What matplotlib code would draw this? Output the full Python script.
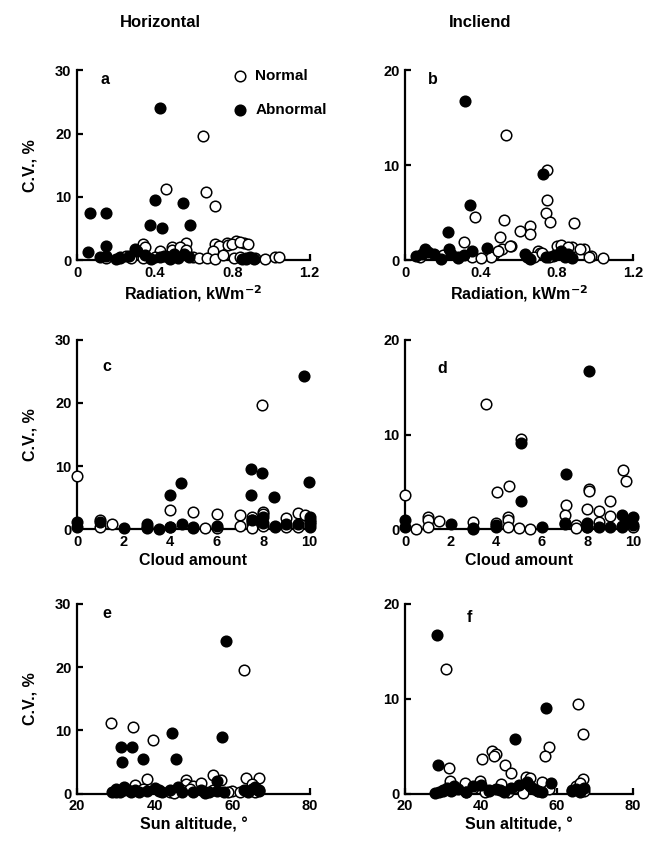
import matplotlib.pyplot as plt
import numpy as np

plt.rcParams['font.family'] = ['Liberation Sans', 'DejaVu Sans']
plt.rcParams['font.weight'] = 'bold'

# panel a: horizontal, radiation
a_norm_x = [0.65, 0.46, 0.665, 0.71, 0.34, 0.56, 0.71, 0.775, 0.82, 0.86,
            0.73, 0.70, 0.49, 0.43, 0.22, 0.28, 0.34, 0.35, 0.40, 0.45,
            0.49, 0.53, 0.56, 0.60, 0.63, 0.67, 0.71, 0.75, 0.78, 0.80,
            0.84, 0.88, 0.81, 0.84, 0.87, 0.92, 0.97, 1.02, 1.04, 0.15, 0.25]
a_norm_y = [19.6, 11.2, 10.7, 8.5, 2.5, 2.7, 2.5, 2.7, 3.0, 2.7,
            2.2, 1.5, 2.0, 1.5, 0.4, 0.3, 0.3, 2.0, 0.5, 0.6,
            1.6, 2.0, 1.6, 0.4, 0.3, 0.3, 0.2, 0.8, 2.3, 2.6,
            2.8, 2.5, 0.3, 0.4, 0.2, 0.3, 0.2, 0.4, 0.4, 0.3, 0.6]
a_abn_x = [0.43, 0.065, 0.15, 0.40, 0.545, 0.378, 0.44, 0.58, 0.055, 0.147,
           0.30, 0.15, 0.22, 0.27, 0.31, 0.38, 0.43, 0.46, 0.50, 0.55,
           0.575, 0.87, 0.89, 0.12, 0.20, 0.35, 0.48, 0.52, 0.85, 0.91]
a_abn_y = [24.1, 7.5, 7.5, 9.5, 8.95, 5.6, 5.1, 5.6, 1.2, 2.2,
           1.7, 0.6, 0.3, 0.6, 1.5, 0.2, 0.4, 0.6, 0.9, 0.9,
           0.5, 0.3, 0.5, 0.4, 0.2, 0.8, 0.2, 0.3, 0.2, 0.1]

# panel b: inclined, radiation
b_norm_x = [0.53, 0.745, 0.745, 0.74, 0.765, 0.89, 0.37, 0.52, 0.655, 0.655,
            0.605, 0.50, 0.51, 0.56, 0.31, 0.47, 0.94, 0.80, 0.84, 0.88,
            0.70, 0.71, 1.04, 0.98, 0.28, 0.35, 0.45, 0.49, 0.55, 0.68,
            0.72, 0.78, 0.82, 0.86, 0.92, 0.97, 0.08, 0.20, 0.40, 0.76]
b_norm_y = [13.2, 9.5, 6.3, 4.95, 4.05, 3.9, 4.5, 4.25, 3.6, 2.7,
            3.1, 2.4, 1.2, 1.5, 1.95, 0.6, 1.2, 1.5, 1.3, 1.4,
            0.9, 0.7, 0.2, 0.4, 0.3, 0.3, 0.3, 0.9, 1.5, 0.3,
            0.7, 0.4, 1.6, 1.4, 1.2, 0.3, 0.3, 0.5, 0.2, 0.3]
b_abn_x = [0.316, 0.728, 0.34, 0.226, 0.433,
           0.105, 0.09, 0.15, 0.23, 0.24, 0.31, 0.35, 0.06, 0.63, 0.64,
           0.74, 0.79, 0.82, 0.84, 0.86, 0.88, 0.12, 0.19, 0.28, 0.66]
b_abn_y = [16.75, 9.1, 5.75, 2.97, 1.26,
           1.2, 0.6, 0.6, 1.2, 0.6, 0.5, 0.9, 0.4, 0.65, 0.3,
           0.3, 0.5, 0.9, 0.3, 0.6, 0.2, 0.8, 0.1, 0.2, 0.1]

# panel c: horizontal, cloud amount
c_norm_x = [7.96, 0, 4, 5, 6, 7, 7.5, 7.5, 7.5, 8,
            8, 9, 9.5, 9.8, 1, 1.5, 1, 3, 4, 5,
            5.5, 6, 7, 8.5, 9, 9.5, 10, 8, 7.5, 10]
c_norm_y = [19.6, 8.5, 3.0, 2.7, 2.4, 2.2, 2.0, 1.5, 1.0, 2.7,
            2.4, 1.8, 2.6, 2.2, 1.5, 0.8, 0.4, 0.2, 0.4, 0.3,
            0.2, 0.2, 0.5, 0.3, 0.4, 0.3, 1.5, 0.5, 0.2, 0.8]
c_abn_x = [9.75, 7.47, 7.96, 4.47, 9.96, 4.0, 7.47, 8.45,
           0, 0, 1, 2, 3, 3, 3.5, 4, 4.5, 6,
           7.5, 8, 8, 8.5, 9, 9.5, 10, 10, 10, 5]
c_abn_y = [24.2, 9.5, 8.9, 7.4, 7.5, 5.45, 5.45, 5.05,
           1.2, 0.3, 1.2, 0.2, 0.8, 0.3, 0.0, 0.3, 0.8, 0.6,
           1.5, 1.0, 2.0, 0.6, 0.8, 0.8, 2.0, 1.2, 0.3, 0.2]

# panel d: inclined, cloud amount
d_norm_x = [3.54, 5.07, 9.57, 9.7, 8.07, 8.07, 4.56, 4.05, 0, 7.06,
            9, 8, 8.5, 7, 9, 4.5, 4.5, 1, 1, 1.5,
            3, 4, 7, 8.5, 0.5, 1, 3, 4.5, 5, 5.5,
            7.5, 7.5, 9.5, 10, 8]
d_norm_y = [13.2, 9.5, 6.3, 5.1, 4.3, 4.0, 4.55, 3.9, 3.6, 2.6,
            3.0, 2.2, 1.9, 1.5, 1.4, 1.3, 1.0, 1.3, 1.0, 0.9,
            0.8, 0.7, 0.6, 0.8, 0.0, 0.3, 0.1, 0.2, 0.1, 0.0,
            0.5, 0.1, 0.4, 0.3, 0.2]
d_abn_x = [8.07, 5.07, 7.06, 5.07,
           0, 0, 2, 3, 4, 6, 7, 8, 8.5, 9,
           9.5, 10, 9.7, 10, 4, 8, 9.5]
d_abn_y = [16.7, 9.07, 5.85, 3.0,
           1.0, 0.2, 0.6, 0.0, 0.2, 0.2, 0.7, 0.7, 0.2, 0.3,
           1.5, 1.3, 0.8, 0.5, 0.5, 0.3, 0.2]

# panel e: horizontal, sun altitude
e_norm_x = [63, 28.8, 34.5, 39.7, 55, 57, 63.5, 67, 38, 48,
            48, 50, 52, 35, 65, 30, 32, 37, 41, 44,
            47, 49, 53, 55, 60, 62, 66, 67, 45, 59]
e_norm_y = [19.6, 11.1, 10.6, 8.5, 2.95, 2.1, 2.5, 2.5, 2.3, 2.2,
            1.6, 1.2, 1.7, 1.3, 1.5, 0.3, 0.5, 0.8, 0.6, 0.2,
            0.5, 0.8, 0.3, 0.6, 0.4, 0.3, 0.2, 0.5, 0.1, 0.3]
e_abn_x = [58.5, 57.3, 44.5, 31.2, 34.2, 31.7, 37.0, 45.4, 56.0,
           29, 30, 31, 32, 33, 34, 35, 36, 38, 40,
           42, 44, 46, 47, 50, 52, 54, 56, 58, 63,
           64, 65, 66, 67, 41, 53]
e_abn_y = [24.2, 8.9, 9.6, 7.4, 7.4, 5.05, 5.5, 5.5, 2.0,
           0.3, 0.8, 0.2, 1.0, 0.5, 0.3, 0.6, 0.2, 0.4, 0.9,
           0.3, 0.5, 1.0, 0.2, 0.3, 0.5, 0.2, 0.4, 0.3, 0.5,
           0.2, 0.8, 1.0, 0.4, 0.4, 0.1]

# panel f: inclined, sun altitude
f_norm_x = [30.7, 65.4, 66.7, 57.8, 56.8, 43, 44, 43.5, 46.3, 40.3,
            31.7, 48, 51.8, 56, 66.7, 31.8, 35.8, 39.8, 45.2, 53,
            30, 33, 36, 38, 42, 47, 50, 55, 58, 64,
            65, 66, 67, 41, 51]
f_norm_y = [13.15, 9.4, 6.25, 4.9, 4.0, 4.5, 4.2, 4.0, 3.0, 3.6,
            2.7, 2.2, 1.8, 1.2, 1.5, 1.3, 1.1, 1.3, 1.0, 1.6,
            0.3, 0.5, 0.2, 0.6, 0.4, 0.2, 0.7, 0.3, 0.5, 0.4,
            0.8, 1.1, 0.3, 0.2, 0.1]
f_abn_x = [28.4, 57.2, 48.9, 28.8, 58.5,
           28, 29, 30, 31, 32, 34, 36, 38, 40, 42,
           44, 46, 48, 50, 52, 53, 54, 55, 56, 64,
           65, 66, 67, 33, 45]
f_abn_y = [16.75, 9.0, 5.75, 2.97, 1.15,
           0.1, 0.2, 0.4, 0.6, 0.3, 0.5, 0.2, 0.8, 0.9, 0.3,
           0.5, 0.2, 0.6, 0.9, 1.2, 0.8, 0.5, 0.3, 0.2, 0.3,
           0.5, 0.2, 0.6, 0.8, 0.4]

fig = plt.figure(figsize=(6.48, 8.47), dpi=100)

lefts = [0.119, 0.625]
widths = [0.359, 0.352]
bottoms = [0.693, 0.375, 0.063]
height = 0.224

panels = [
    ('a', a_norm_x, a_norm_y, a_abn_x, a_abn_y, (0, 1.2), [0, 0.4, 0.8, 1.2], ['0', '0.4', '0.8', '1.2'], 30, 'Radiation, kWm$^{-2}$', (0.10, 0.95)),
    ('b', b_norm_x, b_norm_y, b_abn_x, b_abn_y, (0, 1.2), [0, 0.4, 0.8, 1.2], ['0', '0.4', '0.8', '1.2'], 20, 'Radiation, kWm$^{-2}$', (0.10, 0.95)),
    ('c', c_norm_x, c_norm_y, c_abn_x, c_abn_y, (0, 10), [0, 2, 4, 6, 8, 10], None, 30, 'Cloud amount', (0.11, 0.86)),
    ('d', d_norm_x, d_norm_y, d_abn_x, d_abn_y, (0, 10), [0, 2, 4, 6, 8, 10], None, 20, 'Cloud amount', (0.14, 0.85)),
    ('e', e_norm_x, e_norm_y, e_abn_x, e_abn_y, (20, 80), [20, 40, 60, 80], None, 30, 'Sun altitude, °', (0.11, 0.95)),
    ('f', f_norm_x, f_norm_y, f_abn_x, f_abn_y, (20, 80), [20, 40, 60, 80], None, 20, 'Sun altitude, °', (0.27, 0.93)),
]

for i, (letter, nx, ny, bx, by, xlim, xticks, xtl, ymax, xlabel, lpos) in enumerate(panels):
    col = i % 2
    row = i // 2
    ax = fig.add_axes([lefts[col], bottoms[row], widths[col], height])
    ax.scatter(nx, ny, s=58, facecolors='white', edgecolors='black', linewidths=1.1,
               clip_on=False, zorder=3, label='Normal')
    ax.scatter(bx, by, s=58, facecolors='black', edgecolors='black', linewidths=1.1,
               clip_on=False, zorder=4, label='Abnormal')
    ax.set_xlim(*xlim)
    ax.set_ylim(0, ymax)
    ax.set_xticks(xticks)
    if xtl:
        ax.set_xticklabels(xtl)
    ax.set_yticks(np.arange(0, ymax + 1, 10))
    for s in ['top', 'right']:
        ax.spines[s].set_visible(False)
    for s in ['left', 'bottom']:
        ax.spines[s].set_linewidth(1.6)
    ax.tick_params(direction='in', length=4, width=1.6, labelsize=10.5, pad=4)
    ax.set_xlabel(xlabel, fontsize=11.5, fontweight='bold', labelpad=3)
    if col == 0:
        ax.set_ylabel('C.V., %', fontsize=11.5, fontweight='bold', labelpad=13)
    ax.text(lpos[0], lpos[1], letter, transform=ax.transAxes, fontsize=11.5,
            fontweight='bold', ha='left', va='center')
    if letter == 'a':
        ax.legend(loc='upper right', frameon=False, fontsize=11, handletextpad=0.0,
                  labelspacing=1.35, borderaxespad=0.0, bbox_to_anchor=(1.1, 1.04),
                  markerscale=1.0)

fig.text(0.247, 0.974, 'Horizontal', fontsize=12, fontweight='bold', ha='center', va='center')
fig.text(0.741, 0.974, 'Incliend', fontsize=12, fontweight='bold', ha='center', va='center')

fig.savefig('out.png', dpi=100)
